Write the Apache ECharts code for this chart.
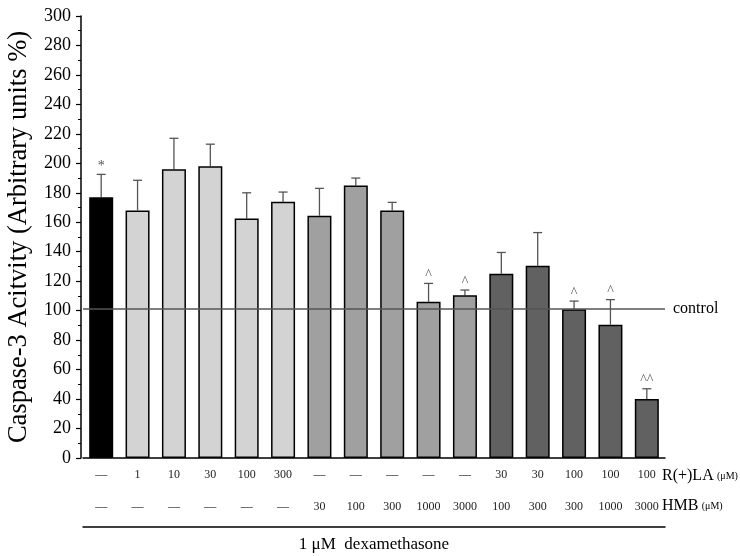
<!DOCTYPE html>
<html>
<head>
<meta charset="utf-8">
<script src="https://cdn.jsdelivr.net/npm/echarts@6/dist/echarts.min.js"></script>
<style>html,body{margin:0;padding:0;background:#fff}#c{width:740px;height:556px}</style>
</head>
<body>
<div id="c"></div>
<script>
// ---- data ----
var rlaLabels = ['—','1','10','30','100','300','—','—','—','—','—','30','30','100','100','100'];
var hmbLabels = ['—','—','—','—','—','—','30','100','300','1000','3000','100','300','300','1000','3000'];
var meanValues = [177,168,196,198,162.5,174,164.5,185,168,106,110.5,125,130.5,101,90.5,40];
var errValues = [15.5,20.5,21,15,17.5,6.5,18.5,5,5.5,12.5,3.5,14.5,22.5,5.5,17,7];
var sigMarks = ['*','','','','','','','','','^','^','','','^','^','^^'];
var groupIndex = [0,1,1,1,1,1,2,2,2,2,2,3,3,3,3,3];
var controlValue = 101;
var yTicks = {min:0, max:300, interval:20};

// ---- styles ----
var palette = ['#000000','#d3d3d3','#a0a0a0','#616161'];
var serif = '"Liberation Serif","DejaVu Serif",serif';

var cats = rlaLabels.map(function(_, i){ return 'c' + i; });
var barData = meanValues.map(function(v, i){
  return {value: v, itemStyle: {color: palette[groupIndex[i]]}};
});
var errData = meanValues.map(function(v, i){ return [i, v, v + errValues[i]]; });

var chart = echarts.init(document.getElementById('c'));
chart.setOption({
  animation: false,
  grid: {left: 83, right: 75, top: 16, bottom: 98, containLabel: false, outerBoundsMode: 'none'},
  xAxis: [
    {type:'category', data: cats, position:'bottom',
     axisLine:{show:true, lineStyle:{color:'#000', width:1.5}},
     axisTick:{show:false},
     axisLabel:{margin:11, fontFamily:serif, fontSize:12, color:'#222',
       formatter:function(v, i){ return rlaLabels[i]; }}},
    {type:'category', data: cats, position:'bottom', offset:0,
     axisLine:{show:false}, axisTick:{show:false},
     axisLabel:{margin:43, fontFamily:serif, fontSize:12, color:'#222',
       formatter:function(v, i){ return hmbLabels[i]; }}},
    {type:'category', data: cats, position:'bottom', offset:69,
     axisLine:{show:true, lineStyle:{color:'#000', width:1.5}},
     axisTick:{show:false}, axisLabel:{show:false},
     name:'1 μM  dexamethasone', nameLocation:'middle', nameGap:9, nameMoveOverlap:false,
     nameTextStyle:{fontFamily:serif, fontSize:17, color:'#000'}}
  ],
  yAxis: {type:'value', min:yTicks.min, max:yTicks.max, interval:yTicks.interval, offset:2,
    name:'Caspase-3 Acitvity (Arbitrary units %)', nameLocation:'middle', nameGap:48, nameMoveOverlap:false,
    nameTextStyle:{fontFamily:serif, fontSize:26.5, color:'#000'},
    axisLine:{show:true, lineStyle:{color:'#000', width:1.5}},
    axisTick:{show:true, inside:false, length:5, lineStyle:{color:'#000', width:1.2}},
    minorTick:{show:true, splitNumber:2, length:3, lineStyle:{color:'#000', width:1}},
    splitLine:{show:false},
    axisLabel:{margin:10, fontFamily:serif, fontSize:18, color:'#000'}},
  series: [
    {type:'bar', data: barData, barWidth:24, xAxisIndex:0,
     itemStyle:{borderColor:'#000', borderWidth:1.5},
     markLine:{silent:true, symbol:'none',
       lineStyle:{color:'#555', width:1.5, type:'solid'},
       label:{show:true, position:'end', distance:8, formatter:'control',
         fontFamily:serif, fontSize:16, color:'#000'},
       data:[{yAxis: controlValue}]}},
    {type:'custom', xAxisIndex:0, data: errData, z:1,
     renderItem:function(params, api){
       var base = api.coord([api.value(0), api.value(1)]);
       var top = api.coord([api.value(0), api.value(2)]);
       var mark = sigMarks[params.dataIndex];
       var children = [
         {type:'line', shape:{x1:base[0], y1:base[1], x2:top[0], y2:top[1]},
          style:{stroke:'#555', lineWidth:1.3}},
         {type:'line', shape:{x1:top[0]-4.5, y1:top[1], x2:top[0]+4.5, y2:top[1]},
          style:{stroke:'#555', lineWidth:1.3}}
       ];
       if (mark) {
         children.push({type:'text', x:top[0], y:top[1]-1,
           style:{text:mark, fill:'#555', font:'14px ' + serif, align:'center', verticalAlign:'bottom'}});
       }
       return {type:'group', children:children};
     }}
  ],
  graphic: [
    {type:'text', left:662, top:468, style:{
      text:'{a|R(+)LA} {b|(μM)}',
      rich:{a:{fontFamily:serif, fontSize:16, fill:'#000'}, b:{fontFamily:serif, fontSize:10, fill:'#000'}}}},
    {type:'text', left:662, top:498, style:{
      text:'{a|HMB} {b|(μM)}',
      rich:{a:{fontFamily:serif, fontSize:16, fill:'#000'}, b:{fontFamily:serif, fontSize:10, fill:'#000'}}}}
  ]
});
</script>
</body>
</html>
